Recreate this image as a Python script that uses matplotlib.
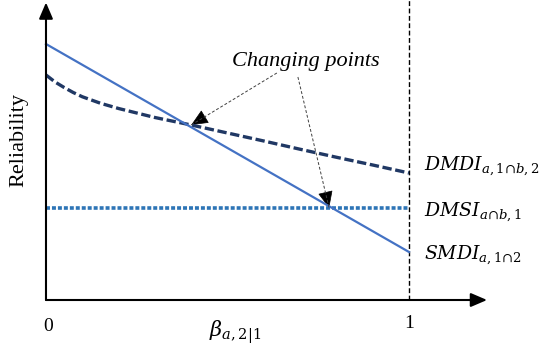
import matplotlib.pyplot as plt
from matplotlib.patches import FancyArrowPatch

plt.rcParams['mathtext.fontset'] = 'dejavuserif'

# beta on the x axis, reliability (arbitrary units) on the y axis
beta = [0.0, 0.025, 0.05, 0.075, 0.1, 0.15, 0.2, 0.3, 0.4, 0.5, 0.6, 0.7, 0.8, 0.9, 1.0]
dmdi = [0.90, 0.872, 0.850, 0.830, 0.813, 0.787, 0.766, 0.73, 0.70, 0.668, 0.636,
        0.603, 0.571, 0.54, 0.508]
smdi_x = [0.0, 1.0]
smdi = [1.024, 0.192]
dmsi_x = [0.0, 1.0]
dmsi = [0.368, 0.368]

# changing points: where DMDI crosses SMDI and where SMDI crosses DMSI
change_pts = [(0.40, 0.70), (0.78, 0.368)]
arrow_starts = [(0.636, 0.908), (0.694, 0.892)]

line_labels = [r'$DMDI_{a,1{\cap}b,2}$', r'$DMSI_{a{\cap}b,1}$', r'$SMDI_{a,1{\cap}2}$']
label_y = [0.535, 0.352, 0.18]

fig = plt.figure(figsize=(5.4, 3.47), dpi=100)
ax = fig.add_axes([0, 0, 1, 1])
ax.set_xlim(-0.1267, 1.3609)
ax.set_ylim(-0.188, 1.2)
ax.axis('off')

# axes drawn as arrows
for tip in [(1.215, 0), (0, 1.19)]:
    ax.annotate('', xy=tip, xytext=(0, 0),
                arrowprops=dict(arrowstyle='-|>,head_length=0.7,head_width=0.3',
                                color='black', lw=1.5, mutation_scale=14,
                                shrinkA=0, shrinkB=0))

# beta = 1 boundary
ax.plot([1, 1], [0, 1.2], color='black', lw=1.0, linestyle=(0, (3.5, 1.8)))

ax.plot(beta, dmdi, color='#203864', lw=2.4,
        linestyle=(0, (2.8, 1.1)), dash_capstyle='butt')
ax.plot(dmsi_x, dmsi, color='#2E75B6', lw=2.6,
        linestyle=(0, (1.1, 0.55)), dash_capstyle='butt')
ax.plot(smdi_x, smdi, color='#4472C4', lw=1.6)

# annotation with dashed leaders and solid heads
ax.text(0.715, 0.935, 'Changing points', family='Liberation Serif', style='italic',
        fontsize=16, ha='center', va='baseline')
for (sx, sy), (tx, ty) in zip(arrow_starts, change_pts):
    ax.plot([sx, tx], [sy, ty], color='#404040', lw=0.7, linestyle=(0, (3, 2)))
    hx = tx + (sx - tx) * 0.08
    hy = ty + (sy - ty) * 0.08
    head = FancyArrowPatch((hx, hy), (tx, ty),
                           arrowstyle='-|>,head_length=0.9,head_width=0.4',
                           mutation_scale=12, color='black', lw=0.5,
                           shrinkA=0, shrinkB=0)
    ax.add_patch(head)

for txt, y in zip(line_labels, label_y):
    ax.text(1.04, y, txt, fontsize=13.6, ha='left', va='center')

# tick labels
ax.text(0.005, -0.105, '0', family='Liberation Serif', fontsize=14, ha='center', va='center')
ax.text(1, -0.095, '1', family='Liberation Serif', fontsize=14, ha='center', va='center')
ax.text(0.52, -0.13, r'$\beta_{a,2|1}$', fontsize=15, ha='center', va='center')
ax.text(-0.076, 0.64, 'Reliability', family='Liberation Serif', fontsize=16,
        rotation=90, ha='center', va='center')

fig.savefig('out.png', dpi=100)
